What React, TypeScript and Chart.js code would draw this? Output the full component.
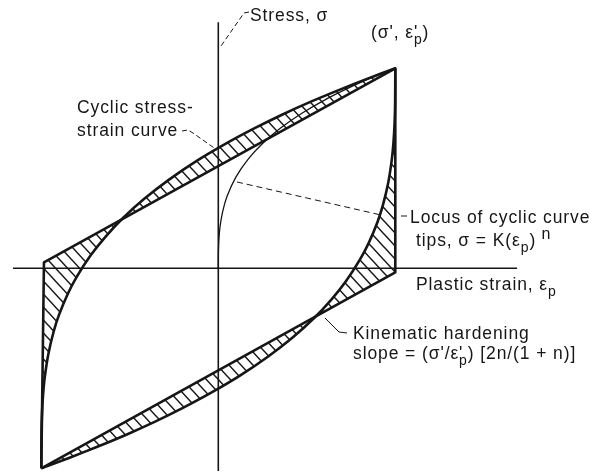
import React, { useEffect, useRef } from "react";
import { Chart, registerables } from "chart.js";

Chart.register(...registerables);

// ---------- data (plastic strain in units of ε'p, stress in units of σ') ----------
// Stable hysteresis loop, ascending (loading) branch, bottom-left tip -> top-right tip
const ascStrain = [-1, -0.999, -0.996, -0.99, -0.98, -0.96, -0.93, -0.9, -0.85, -0.8, -0.72, -0.64, -0.54, -0.42, -0.28, -0.12, 0.04, 0.2, 0.36, 0.52, 0.68, 0.84, 1];
const ascStress = [-1, -0.824, -0.726, -0.633, -0.542, -0.428, -0.316, -0.233, -0.127, -0.043, 0.066, 0.155, 0.25, 0.346, 0.442, 0.538, 0.622, 0.698, 0.768, 0.832, 0.891, 0.947, 1];
// Descending (unloading) branch, top-right tip -> bottom-left tip
const descStrain = [1, 0.999, 0.996, 0.99, 0.98, 0.96, 0.93, 0.9, 0.85, 0.8, 0.72, 0.64, 0.54, 0.42, 0.28, 0.12, -0.04, -0.2, -0.36, -0.52, -0.68, -0.84, -1];
const descStress = [1, 0.824, 0.726, 0.633, 0.542, 0.428, 0.316, 0.233, 0.127, 0.043, -0.066, -0.155, -0.25, -0.346, -0.442, -0.538, -0.622, -0.698, -0.768, -0.832, -0.891, -0.947, -1];
// Cyclic stress-strain curve (locus of tips), from the origin
const cyclicStrain = [0, 0.0002, 0.001, 0.004, 0.01, 0.025, 0.05, 0.1, 0.17, 0.25, 0.35, 0.47, 0.6, 0.74, 0.87, 1];
const cyclicStress = [0, 0.055, 0.096, 0.153, 0.209, 0.285, 0.361, 0.457, 0.547, 0.624, 0.7, 0.774, 0.841, 0.903, 0.954, 1];
// Kinematic-hardening loop corners
const kinStrain = [-1, -0.985, 1, 1, -1];
const kinStress = [-1, 0.03, 1, -0.02, -1];
// Axes
const stressAxisStrain = [0, 0];
const stressAxisStress = [1.23, -1.013];
const strainAxisStrain = [-1.16, 1.688];
const strainAxisStress = [0, 0];

const INK = "#161616";
const FONT = '"Liberation Sans", Arial, sans-serif';
const BASE = 17.5;

type Run = { t: string; dy?: number; size?: number; stack?: boolean };

function makeHatch(): CanvasPattern | string {
  const w = 12;
  const h = 13;
  const c = document.createElement("canvas");
  c.width = w;
  c.height = h;
  const g = c.getContext("2d");
  if (!g) return "rgba(0,0,0,0.3)";
  g.strokeStyle = INK;
  g.lineWidth = 1.5;
  g.beginPath();
  for (const k of [-1, 0, 1]) {
    g.moveTo(k * w - w, -h);
    g.lineTo(k * w + 2 * w, 2 * h);
  }
  g.stroke();
  return g.createPattern(c, "repeat") || "rgba(0,0,0,0.3)";
}

const annotations = {
  id: "annotations",
  afterDraw(chart: any) {
    const ctx: CanvasRenderingContext2D = chart.ctx;
    ctx.save();
    ctx.fillStyle = INK;
    ctx.strokeStyle = INK;
    ctx.textAlign = "left";
    ctx.textBaseline = "alphabetic";
    (ctx as any).letterSpacing = "0.9px";

    const text = (x: number, y: number, runs: Run[]) => {
      let cx = x;
      for (const r of runs) {
        ctx.font = `${r.size ?? BASE}px ${FONT}`;
        ctx.fillText(r.t, cx, y + (r.dy ?? 0));
        if (!r.stack) cx += ctx.measureText(r.t).width;
      }
    };
    const poly = (p: number[][]) => {
      ctx.beginPath();
      ctx.moveTo(p[0][0], p[0][1]);
      for (let i = 1; i < p.length; i++) ctx.lineTo(p[i][0], p[i][1]);
      ctx.stroke();
    };

    text(250, 21, [{ t: "Stress, σ" }]);
    text(371, 38, [{ t: "(σ', ε" }, { t: "'", stack: true }, { t: "p", dy: 6, size: 14 }, { t: ")" }]);
    text(77, 113, [{ t: "Cyclic stress-" }]);
    text(77, 136, [{ t: "strain curve" }]);
    text(410, 223, [{ t: "Locus of cyclic curve" }]);
    text(416, 246, [{ t: "tips, σ = K(ε" }, { t: "p", dy: 6, size: 14 }, { t: ")" }, { t: " n", dy: -7, size: 16 }]);
    text(416, 290, [{ t: "Plastic strain, ε" }, { t: "p", dy: 6, size: 14 }]);
    text(353, 339, [{ t: "Kinematic hardening" }]);
    text(353, 359, [{ t: "slope = (σ'/ε" }, { t: "'", stack: true }, { t: "p", dy: 6, size: 14 }, { t: ") [2n/(1 + n)]" }]);

    ctx.lineWidth = 1;
    poly([[401, 216], [407, 216]]);
    poly([[325, 318], [339, 332], [347, 333]]);
    ctx.setLineDash([5, 3]);
    poly([[249, 12], [244, 13], [221, 46]]);
    poly([[182, 131], [188, 130], [193, 133], [217, 150]]);
    ctx.setLineDash([6, 4]);
    poly([[237, 182], [381, 215]]);
    ctx.restore();
  },
};

const pts = (xs: number[], ys: number[]) => xs.map((x, i) => ({ x, y: ys[i] }));

export default function App() {
  const ref = useRef<HTMLCanvasElement>(null);

  useEffect(() => {
    const canvas = ref.current;
    if (!canvas) return;
    const hatch = makeHatch();

    // Region between kinematic loop and hysteresis loop (opposite windings -> symmetric difference)
    const between = [
      ...pts(kinStrain, kinStress),
      ...pts([...descStrain].reverse(), [...descStress].reverse()),
      ...pts([...ascStrain].reverse(), [...ascStress].reverse()),
    ];

    const line = (data: any[], width: number, tension: number, extra: any = {}) => ({
      data,
      showLine: true,
      borderColor: INK,
      borderWidth: width,
      tension,
      pointRadius: 0,
      pointHoverRadius: 0,
      fill: false,
      order: 0,
      ...extra,
    });

    const chart = new Chart(canvas, {
      type: "scatter",
      data: {
        datasets: [
          line(pts(ascStrain, ascStress), 2.6, 0.3),
          line(pts(descStrain, descStress), 2.6, 0.3),
          line(pts(kinStrain, kinStress), 2.6, 0, { borderJoinStyle: "round" }),
          line(pts(cyclicStrain, cyclicStress), 1.3, 0.3),
          line(pts(stressAxisStrain, stressAxisStress), 1.6, 0),
          line(pts(strainAxisStrain, strainAxisStress), 1.6, 0),
          line(between, 0, 0.0001, { fill: "shape", backgroundColor: hatch, borderColor: "rgba(0,0,0,0)", order: 1 }),
        ] as any,
      },
      options: {
        responsive: false,
        animation: false,
        events: [],
        layout: { padding: 0 },
        plugins: { legend: { display: false }, tooltip: { enabled: false }, title: { display: false } },
        scales: {
          x: { type: "linear", min: -1.2333, max: 2.1621, display: false },
          y: { type: "linear", min: -1.0235, max: 1.3415, display: false },
        },
      } as any,
      plugins: [annotations],
    });
    return () => chart.destroy();
  }, []);

  return (
    <div style={{ position: "fixed", left: 0, top: 0, width: 601, height: 473, background: "#fff" }}>
      <canvas ref={ref} width={601} height={473} style={{ width: 601, height: 473, display: "block" }} />
    </div>
  );
}
